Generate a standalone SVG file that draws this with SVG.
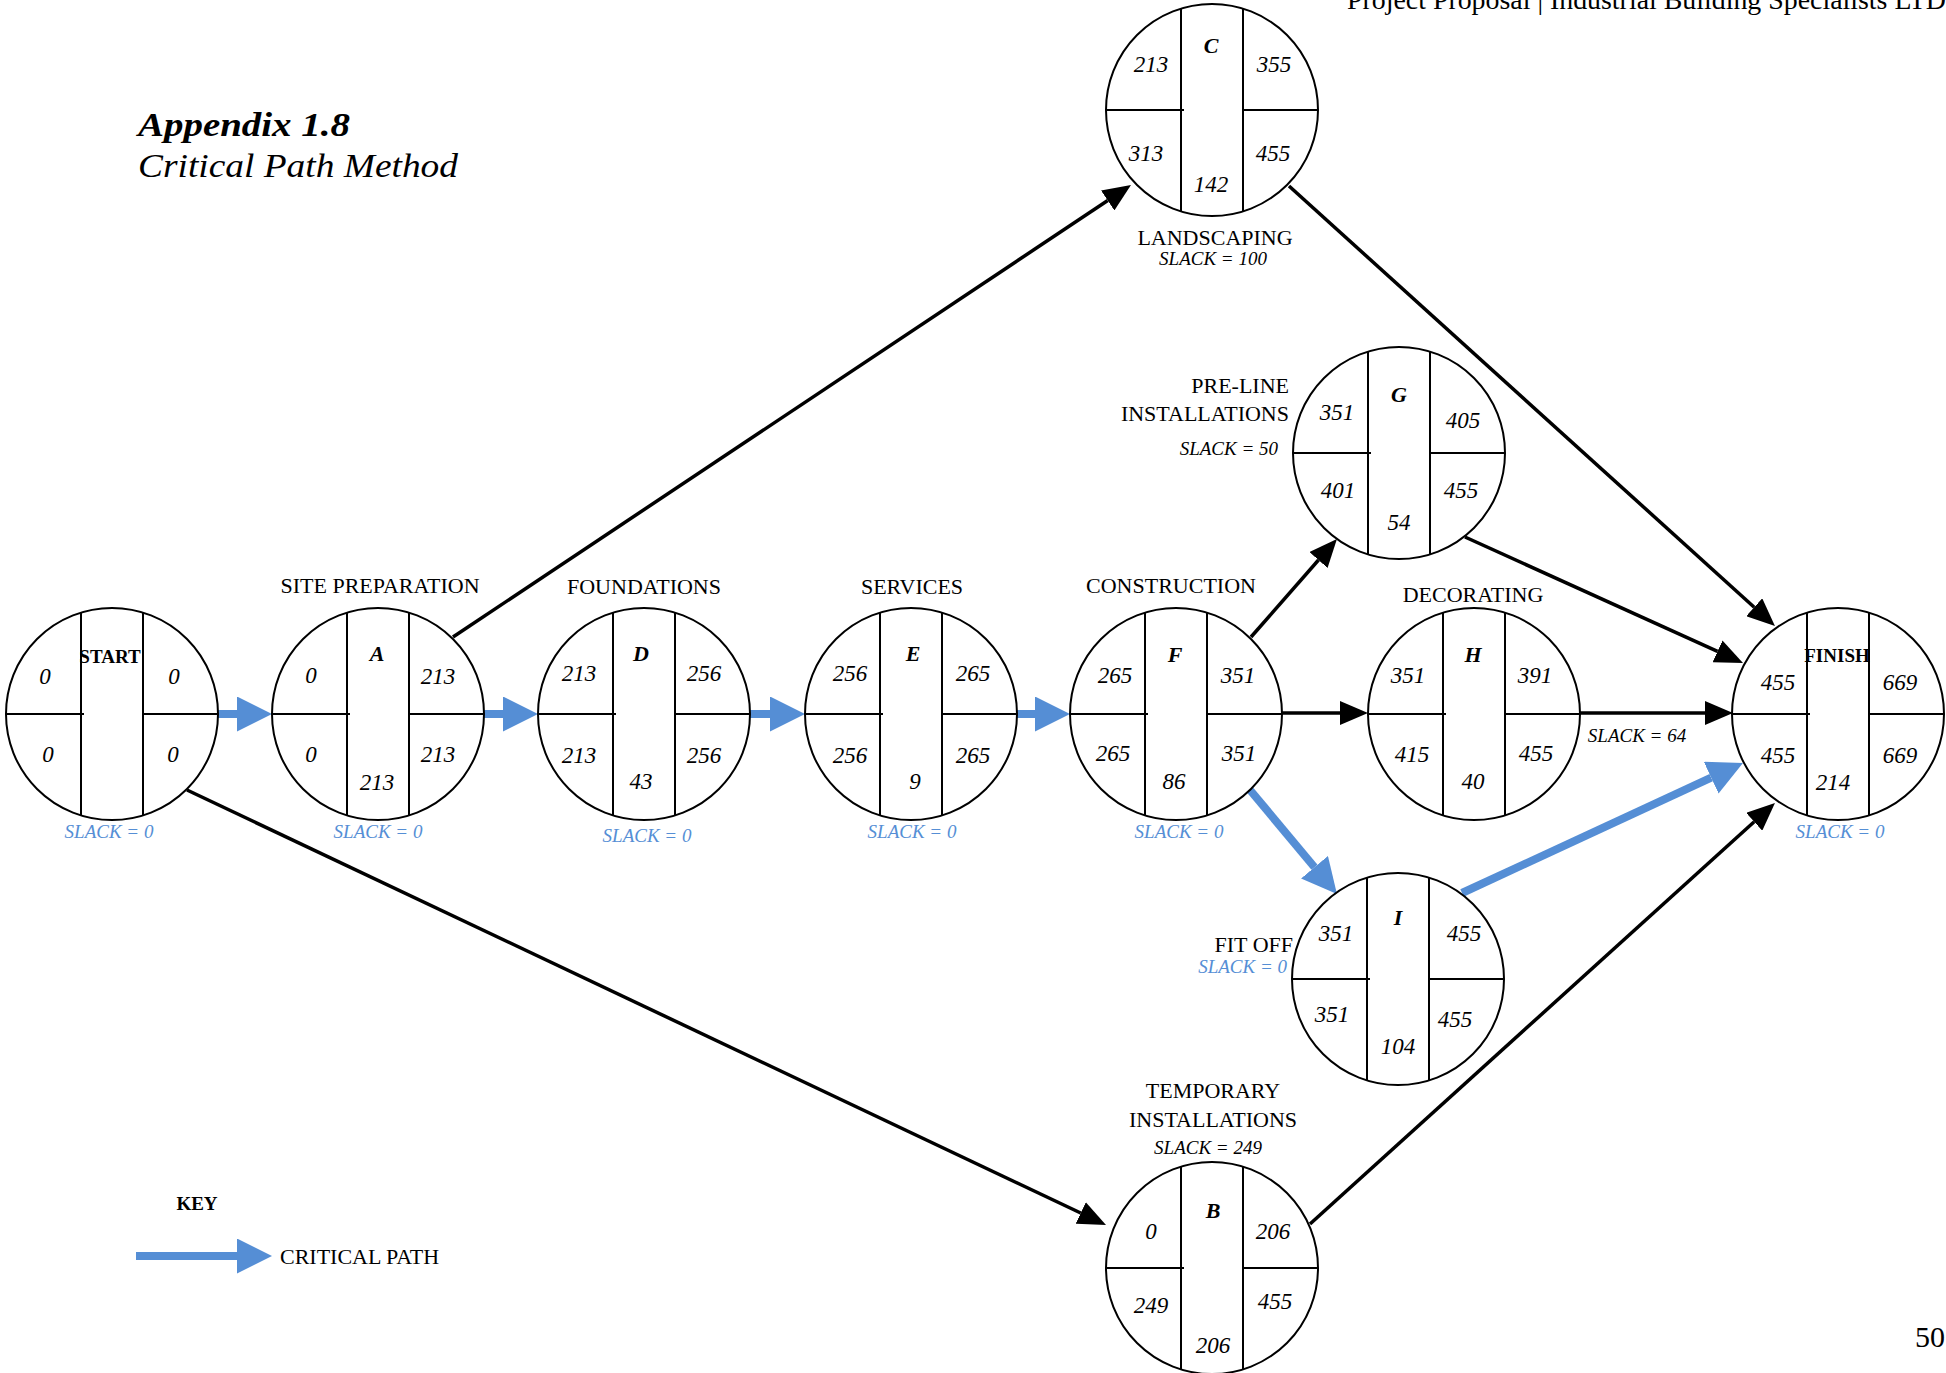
<svg xmlns="http://www.w3.org/2000/svg" xmlns:xlink="http://www.w3.org/1999/xlink" width="1946" height="1373" viewBox="0 0 1946 1373">
<style>
text { font-family: "Liberation Serif", "Times New Roman", serif; fill: #000; }
.num { font-style: italic; font-size: 23px; text-anchor: middle; }
.let { font-style: italic; font-weight: bold; font-size: 22px; text-anchor: middle; }
.lbl { font-size: 22px; text-anchor: middle; }
.lble { font-size: 22px; text-anchor: end; }
.bold { font-weight: bold; font-size: 19px; text-anchor: middle; }
.slack { font-style: italic; font-size: 19px; text-anchor: middle; fill: #558ED5; }
.slackk { font-style: italic; font-size: 19px; text-anchor: middle; fill: #000; }
.end { text-anchor: end; }
.shape { fill: #fff; stroke: #000; stroke-width: 2; }
.blue { stroke: #558ED5; stroke-width: 8; fill: none; marker-end: url(#bh); }
.black { stroke: #000; stroke-width: 3.5; fill: none; marker-end: url(#kh); }
</style>
<defs>
<marker id="bh" viewBox="0 0 35 35" refX="0" refY="17.5" markerWidth="35" markerHeight="35" markerUnits="userSpaceOnUse" orient="auto">
<path d="M0,0 L35,17.5 L0,35 Z" fill="#558ED5"/>
</marker>
<marker id="kh" viewBox="0 0 28 24" refX="0" refY="12" markerWidth="28" markerHeight="24" markerUnits="userSpaceOnUse" orient="auto">
<path d="M0,0 L28,12 L0,24 Z" fill="#000"/>
</marker>
<g id="shape" class="shape">
<circle cx="0" cy="0" r="106"/>
<line x1="-31" y1="-101.4" x2="-31" y2="101.4"/>
<line x1="31" y1="-101.4" x2="31" y2="101.4"/>
<line x1="-106" y1="0" x2="-28" y2="0"/>
<line x1="31" y1="0" x2="106" y2="0"/>
</g>
</defs>
<rect x="0" y="0" width="1946" height="1373" fill="#fff"/>

<text x="1347" y="9" font-size="27" textLength="599" lengthAdjust="spacingAndGlyphs">Project Proposal | Industrial Building Specialists LTD</text>
<text x="138" y="136" font-size="33" font-weight="bold" font-style="italic" textLength="212" lengthAdjust="spacingAndGlyphs">Appendix 1.8</text>
<text x="138" y="177" font-size="33" font-style="italic" textLength="320" lengthAdjust="spacingAndGlyphs">Critical Path Method</text>
<text x="1945" y="1347" font-size="30" text-anchor="end">50</text>

<g id="connectors">
<line class="blue" x1="218" y1="714" x2="237" y2="714"/>
<line class="blue" x1="484" y1="714" x2="503" y2="714"/>
<line class="blue" x1="750" y1="714" x2="770" y2="714"/>
<line class="blue" x1="1017" y1="714" x2="1035" y2="714"/>
<line class="blue" x1="1250" y1="790" x2="1314.5" y2="867.2"/>
<line class="blue" x1="1462" y1="893" x2="1711.2" y2="777.7"/>
<line class="black" x1="453" y1="637" x2="1107.7" y2="200.5"/>
<line class="black" x1="1289" y1="186" x2="1754.2" y2="607.2"/>
<line class="black" x1="1465" y1="537" x2="1717.5" y2="651.4"/>
<line class="black" x1="1251" y1="637" x2="1318.5" y2="560"/>
<line class="black" x1="1282" y1="713" x2="1340" y2="713"/>
<line class="black" x1="1580" y1="713" x2="1705" y2="713"/>
<line class="black" x1="187" y1="790" x2="1080.7" y2="1213"/>
<line class="black" x1="1310" y1="1224" x2="1754.2" y2="821.8"/>
</g>

<g id="node-start">
<use xlink:href="#shape" href="#shape" x="112" y="714"/>
<text class="bold" x="110" y="663">START</text>
<text class="num" x="45" y="684">0</text>
<text class="num" x="174" y="684">0</text>
<text class="num" x="48" y="762">0</text>
<text class="num" x="173" y="762">0</text>
<text class="slack" x="109" y="838">SLACK = 0</text>
</g>

<g id="node-a">
<use xlink:href="#shape" href="#shape" x="378" y="714"/>
<text class="lbl" x="380" y="593">SITE PREPARATION</text>
<text class="let" x="377" y="661">A</text>
<text class="num" x="311" y="683">0</text>
<text class="num" x="438" y="684">213</text>
<text class="num" x="311" y="762">0</text>
<text class="num" x="438" y="762">213</text>
<text class="num" x="377" y="790">213</text>
<text class="slack" x="378" y="838">SLACK = 0</text>
</g>

<g id="node-d">
<use xlink:href="#shape" href="#shape" x="644" y="714"/>
<text class="lbl" x="644" y="594">FOUNDATIONS</text>
<text class="let" x="641" y="661">D</text>
<text class="num" x="579" y="681">213</text>
<text class="num" x="704" y="681">256</text>
<text class="num" x="579" y="763">213</text>
<text class="num" x="704" y="763">256</text>
<text class="num" x="641" y="789">43</text>
<text class="slack" x="647" y="842">SLACK = 0</text>
</g>

<g id="node-e">
<use xlink:href="#shape" href="#shape" x="911" y="714"/>
<text class="lbl" x="912" y="594">SERVICES</text>
<text class="let" x="913" y="661">E</text>
<text class="num" x="850" y="681">256</text>
<text class="num" x="973" y="681">265</text>
<text class="num" x="850" y="763">256</text>
<text class="num" x="973" y="763">265</text>
<text class="num" x="915" y="789">9</text>
<text class="slack" x="912" y="838">SLACK = 0</text>
</g>

<g id="node-f">
<use xlink:href="#shape" href="#shape" x="1176" y="714"/>
<text class="lbl" x="1171" y="593">CONSTRUCTION</text>
<text class="let" x="1175" y="662">F</text>
<text class="num" x="1115" y="683">265</text>
<text class="num" x="1238" y="683">351</text>
<text class="num" x="1113" y="761">265</text>
<text class="num" x="1239" y="761">351</text>
<text class="num" x="1174" y="789">86</text>
<text class="slack" x="1179" y="838">SLACK = 0</text>
</g>

<g id="node-h">
<use xlink:href="#shape" href="#shape" x="1474" y="714"/>
<text class="lbl" x="1473" y="602">DECORATING</text>
<text class="let" x="1473" y="662">H</text>
<text class="num" x="1408" y="683">351</text>
<text class="num" x="1535" y="683">391</text>
<text class="num" x="1412" y="762">415</text>
<text class="num" x="1536" y="761">455</text>
<text class="num" x="1473" y="789">40</text>
<text class="slackk" x="1637" y="742">SLACK = 64</text>
</g>

<g id="node-finish">
<use xlink:href="#shape" href="#shape" x="1838" y="714"/>
<text class="bold" x="1837" y="662">FINISH</text>
<text class="num" x="1778" y="690">455</text>
<text class="num" x="1900" y="690">669</text>
<text class="num" x="1778" y="763">455</text>
<text class="num" x="1900" y="763">669</text>
<text class="num" x="1833" y="790">214</text>
<text class="slack" x="1840" y="838">SLACK = 0</text>
</g>

<g id="node-c">
<use xlink:href="#shape" href="#shape" x="1212" y="110"/>
<text class="let" x="1211" y="53">C</text>
<text class="num" x="1151" y="72">213</text>
<text class="num" x="1274" y="72">355</text>
<text class="num" x="1146" y="161">313</text>
<text class="num" x="1273" y="161">455</text>
<text class="num" x="1211" y="192">142</text>
<text class="lbl" x="1215" y="245">LANDSCAPING</text>
<text class="slackk" x="1213" y="265" font-size="18">SLACK = 100</text>
</g>

<g id="node-g">
<use xlink:href="#shape" href="#shape" x="1399" y="453"/>
<text class="let" x="1399" y="402">G</text>
<text class="num" x="1337" y="420">351</text>
<text class="num" x="1463" y="428">405</text>
<text class="num" x="1338" y="498">401</text>
<text class="num" x="1461" y="498">455</text>
<text class="num" x="1399" y="530">54</text>
<text class="lble" x="1289" y="393">PRE-LINE</text>
<text class="lble" x="1289" y="421">INSTALLATIONS</text>
<text class="slackk end" x="1278" y="455">SLACK = 50</text>
</g>

<g id="node-i">
<use xlink:href="#shape" href="#shape" x="1398" y="979"/>
<text class="let" x="1398" y="925">I</text>
<text class="num" x="1336" y="941">351</text>
<text class="num" x="1464" y="941">455</text>
<text class="num" x="1332" y="1022">351</text>
<text class="num" x="1455" y="1027">455</text>
<text class="num" x="1398" y="1054">104</text>
<text class="lble" x="1293" y="952">FIT OFF</text>
<text class="slack end" x="1287" y="973">SLACK = 0</text>
</g>

<g id="node-b">
<use xlink:href="#shape" href="#shape" x="1212" y="1268"/>
<text class="lbl" x="1213" y="1098">TEMPORARY</text>
<text class="lbl" x="1213" y="1127">INSTALLATIONS</text>
<text class="slackk" x="1208" y="1154">SLACK = 249</text>
<text class="let" x="1213" y="1218">B</text>
<text class="num" x="1151" y="1239">0</text>
<text class="num" x="1273" y="1239">206</text>
<text class="num" x="1151" y="1313">249</text>
<text class="num" x="1275" y="1309">455</text>
<text class="num" x="1213" y="1353">206</text>
</g>

<g id="key">
<text class="bold" x="197" y="1210">KEY</text>
<line class="blue" x1="136" y1="1256" x2="237" y2="1256"/>
<text x="280" y="1264" font-size="22">CRITICAL PATH</text>
</g>
</svg>
